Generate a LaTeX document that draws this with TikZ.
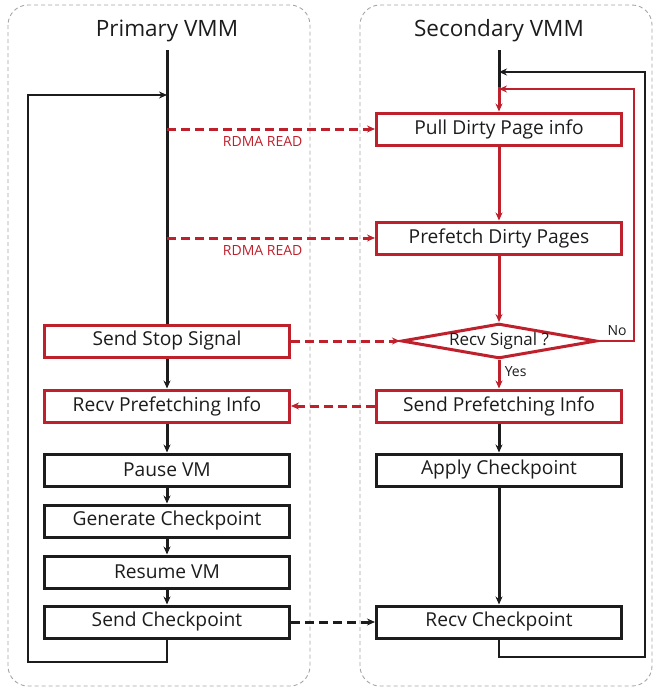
\documentclass[tikz,border=0pt]{standalone}
\usepackage{fontspec}
\setmainfont{Open Sans}
\usetikzlibrary{arrows.meta,positioning,shapes.geometric}
\definecolor{ftRed}{RGB}{190,32,44}
\definecolor{ftGray}{RGB}{165,165,165}
\definecolor{ftBlack}{RGB}{28,28,28}

\begin{document}
\begin{tikzpicture}[x=1pt,y=-1pt,
  stepbox/.style={draw=ftBlack,line width=3pt,minimum width=245pt,minimum height=32pt,inner sep=0pt,text=ftBlack,font=\fontsize{19.2}{22}\selectfont},
  redbox/.style={stepbox,draw=ftRed},
  flow/.style={line width=3pt,ftBlack,-{Stealth[length=8pt,width=7pt]}},
  redflow/.style={flow,ftRed},
  loopline/.style={line width=2.4pt,ftBlack,-{Stealth[length=8pt,width=7pt]}},
  link/.style={line width=3pt,ftRed,dash pattern=on 9pt off 5pt,-{Stealth[length=8pt,width=7pt]}},
  lane/.style={draw=ftGray,line width=0.9pt,dash pattern=on 4pt off 3pt,rounded corners=20pt}]
\useasboundingbox (0,0) rectangle (655,691);

% lanes
\draw[lane] (8,5) rectangle (310,686);
\draw[lane] (360,5) rectangle (652,686);
\node[text=ftBlack,font=\fontsize{22.5}{26}\selectfont] (ptitle) at (167,31) {Primary VMM};
\node[text=ftBlack,font=\fontsize{22.5}{26}\selectfont] (stitle) at (499,31) {Secondary VMM};

% primary side
\node[redbox] (stop) at (167,341) {Send Stop Signal};
\node[redbox] (recvpf) at (167,406) {Recv Prefetching Info};
\node[stepbox] (pause) at (167,470) {Pause VM};
\node[stepbox] (gen) at (167,521) {Generate Checkpoint};
\node[stepbox] (resume) at (167,572) {Resume VM};
\node[stepbox] (sendcp) at (167,622) {Send Checkpoint};

% secondary side
\node[redbox] (pull) at (499,129) {Pull Dirty Page info};
\node[redbox] (prefetch) at (499,238) {Prefetch Dirty Pages};
\node[draw=ftRed,line width=3pt,shape=diamond,aspect=5.6,inner sep=0pt,text=ftBlack,
  font=\fontsize{17}{19}\selectfont] (sig) at (499,341) {Recv Signal ?};
\node[redbox] (sendpf) at (499,406) {Send Prefetching Info};
\node[stepbox] (apply) at (499,470) {Apply Checkpoint};
\node[stepbox] (recvcp) at (499,622) {Recv Checkpoint};

% primary flow
\coordinate (ptop) at (167,50);
\coordinate (pread1) at (167,129);
\coordinate (pread2) at (167,238);
\draw[line width=3pt,ftBlack] (ptop) -- (stop.north);
\draw[flow] (stop) -- (recvpf);
\draw[flow] (recvpf) -- (pause);
\draw[flow] (pause) -- (gen);
\draw[flow] (gen) -- (resume);
\draw[flow] (resume) -- (sendcp);
\draw[loopline] (sendcp.south) -- (167,662) -| (28,95) -- (167,95);

% secondary flow
\coordinate (stop2) at (499,50);
\coordinate (sjoin) at (499,87);
\draw[line width=3pt,ftBlack] (stop2) -- (sjoin);
\draw[redflow] (sjoin) -- (pull);
\draw[redflow] (pull) -- (prefetch);
\draw[redflow] (prefetch) -- (sig);
\draw[redflow] (sig) -- node[right=1pt,text=ftBlack,font=\fontsize{14}{16}\selectfont,pos=0.4] {Yes} (sendpf);
\draw[flow] (sendpf) -- (apply);
\draw[flow] (apply) -- (recvcp);
\draw[loopline] (recvcp.south) -- (499,657) -| (645,72) -- (499,72);
\draw[loopline,ftRed] (sig.east) -- (634,341) -- (634,89) -- (499,89);
\node[text=ftBlack,font=\fontsize{14}{16}\selectfont] (nolbl) at (617,331) {No};

% links between the two sides
\draw[link] (pread1) -- node[below=3pt,pos=0.46,font=\fontsize{14}{16}\selectfont] {RDMA READ} (pull.west);
\draw[link] (pread2) -- node[below=3pt,pos=0.46,font=\fontsize{14}{16}\selectfont] {RDMA READ} (prefetch.west);
\draw[link] (stop) -- (sig);
\draw[link] (sendpf) -- (recvpf);
\draw[link,ftBlack] (sendcp) -- (recvcp);
\end{tikzpicture}
\end{document}
